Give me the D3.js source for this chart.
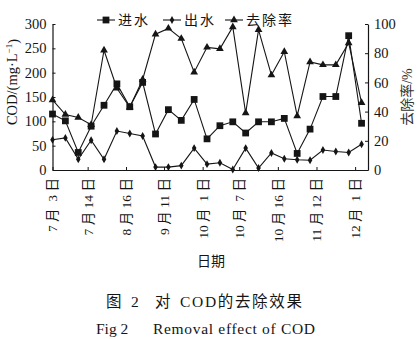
<!DOCTYPE html>
<html><head><meta charset="utf-8">
<script src="https://cdn.jsdelivr.net/npm/d3@7"></script>
<style>
html,body{margin:0;padding:0;background:#fff;}
svg{display:block;}
</style></head><body>
<svg id="c" width="420" height="339"></svg>
<script>
// ---- data ----
const influent = [115, 101, 36, 90, 133, 177, 130, 180, 74, 124, 102, 145, 64, 91, 99, 76, 99, 99, 106, 34, 84, 151, 151, 276, 96];
const effluent = [62, 66, 22, 61, 22, 80, 75, 70, 6, 6, 9, 45, 12, 15, 1, 45, 4, 35, 23, 21, 20, 41, 38, 36, 53];
const removal  = [48, 38, 36, 31, 82, 56, 43, 62, 93, 97, 90, 67, 84, 83, 98, 39, 96, 65, 81, 37, 74, 72, 72, 87, 46];
const tickLabels = ["7 月  3 日", "7 月 14 日", "8 月 16 日", "9 月 11 日", "10 月  1 日", "10 月  7 日", "10 月 16 日", "11 月 12 日", "12 月  1 日"];
const tickPos = [0, 2.73, 5.71, 8.66, 11.66, 14.5, 17.5, 20.5, 23.5];
const leftTicks = [0, 50, 100, 150, 200, 250, 300];
const rightTicks = [0, 20, 40, 60, 80, 100];
const seriesNames = ["进水", "出水", "去除率"];

const svg = d3.select("#c");
const serif = "'Liberation Serif','Times New Roman','Noto Sans CJK SC',serif";
const ink = "#151515";

const x = d3.scaleLinear().domain([0, 24.5]).range([52.5, 368]);
const yL = d3.scaleLinear().domain([0, 300]).range([170, 24]);
const yR = d3.scaleLinear().domain([0, 100]).range([170, 24]);

// axes
const gL = svg.append("g").attr("transform", `translate(${x(0)},0)`)
  .call(d3.axisLeft(yL).tickValues(leftTicks).tickSizeInner(-3).tickSizeOuter(0).tickPadding(6));
const gR = svg.append("g").attr("transform", `translate(${x(24.5)},0)`)
  .call(d3.axisRight(yR).tickValues(rightTicks).tickSizeInner(-3).tickSizeOuter(0).tickPadding(6));
const gB = svg.append("g").attr("transform", `translate(0,${yL(0)})`)
  .call(d3.axisBottom(x).tickValues(tickPos).tickSizeInner(-3).tickSizeOuter(0).tickFormat(""));
[gL, gR, gB].forEach(g => {
  g.selectAll("path.domain").attr("stroke", ink).attr("stroke-width", 1.2);
  g.selectAll(".tick line").attr("stroke", ink).attr("stroke-width", 1);
  g.selectAll(".tick text").attr("font-family", serif).attr("font-size", 14.5).attr("fill", ink);
});

// x labels (rotated)
svg.append("g").selectAll("text").data(tickLabels).join("text")
  .attr("transform", (d, i) => `translate(${x(tickPos[i])},178) rotate(-90)`)
  .attr("text-anchor", "end").attr("dy", "0.36em")
  .style("white-space", "pre")
  .attr("font-family", serif).attr("font-size", 13.5).attr("fill", ink)
  .text(d => d);

// axis titles
const yt = svg.append("text")
  .attr("transform", "translate(12,82) rotate(-90)")
  .attr("text-anchor", "middle").attr("dy", "0.36em")
  .attr("font-family", serif).attr("font-size", 14.5).attr("fill", ink);
yt.append("tspan").text("COD/(mg·L");
yt.append("tspan").attr("font-size", 9).attr("dy", "-0.6em").text("−1");
yt.append("tspan").attr("dy", "0.4em").text(")");

svg.append("text")
  .attr("transform", "translate(407,97) rotate(-90)")
  .attr("text-anchor", "middle").attr("dy", "0.36em")
  .attr("font-family", serif).attr("font-size", 14).attr("fill", "#333")
  .text("去除率/%");

svg.append("text").attr("x", 211).attr("y", 266).attr("text-anchor", "middle")
  .attr("font-family", serif).attr("font-size", 14).attr("fill", ink).text("日期");

// captions
const cap = svg.append("text").attr("y", 307).attr("font-family", serif).attr("font-size", 15.5).attr("fill", ink).style("white-space", "pre");
cap.append("tspan").attr("x", 106).text("图");
cap.append("tspan").attr("x", 131).text("2");
cap.append("tspan").attr("x", 155).text("对");
cap.append("tspan").attr("x", 180).attr("textLength", 122).text("COD的去除效果");
const cap2 = svg.append("text").attr("y", 334).attr("font-family", serif).attr("font-size", 15.5).attr("fill", ink);
cap2.append("tspan").attr("x", 96).text("Fig 2");
cap2.append("tspan").attr("x", 153).attr("textLength", 162).text("Removal effect of COD");

// series
const sq = d3.symbol().type(d3.symbolSquare).size(46);
const dm = d3.symbol().type(d3.symbolDiamond).size(18);
const tr = d3.symbol().type(d3.symbolTriangle).size(26);
const series = [
  {vals: influent, y: yL, sym: sq},
  {vals: effluent, y: yL, sym: dm},
  {vals: removal, y: yR, sym: tr}
];
series.forEach(s => {
  svg.append("path").datum(s.vals)
    .attr("d", d3.line().x((d, i) => x(i)).y(d => s.y(d)))
    .attr("fill", "none").attr("stroke", ink).attr("stroke-width", 1.1);
});
series.forEach(s => {
  svg.append("g").selectAll("path").data(s.vals).join("path")
    .attr("transform", (d, i) => `translate(${x(i)},${s.y(d)})`)
    .attr("d", s.sym()).attr("fill", ink);
});

// legend
const legX = [97, 163, 225];
const leg = svg.append("g");
series.forEach((s, k) => {
  const g = leg.append("g").attr("transform", `translate(${legX[k]},20)`);
  g.append("line").attr("x1", 0).attr("x2", 18).attr("stroke", ink).attr("stroke-width", 1.1);
  g.append("path").attr("transform", "translate(9,0)").attr("d", s.sym()).attr("fill", ink);
  g.append("text").attr("x", 21).attr("dy", "0.36em")
    .attr("font-family", serif).attr("font-size", 14).attr("letter-spacing", 2).attr("fill", ink)
    .text(seriesNames[k]);
});
</script>
</body></html>
